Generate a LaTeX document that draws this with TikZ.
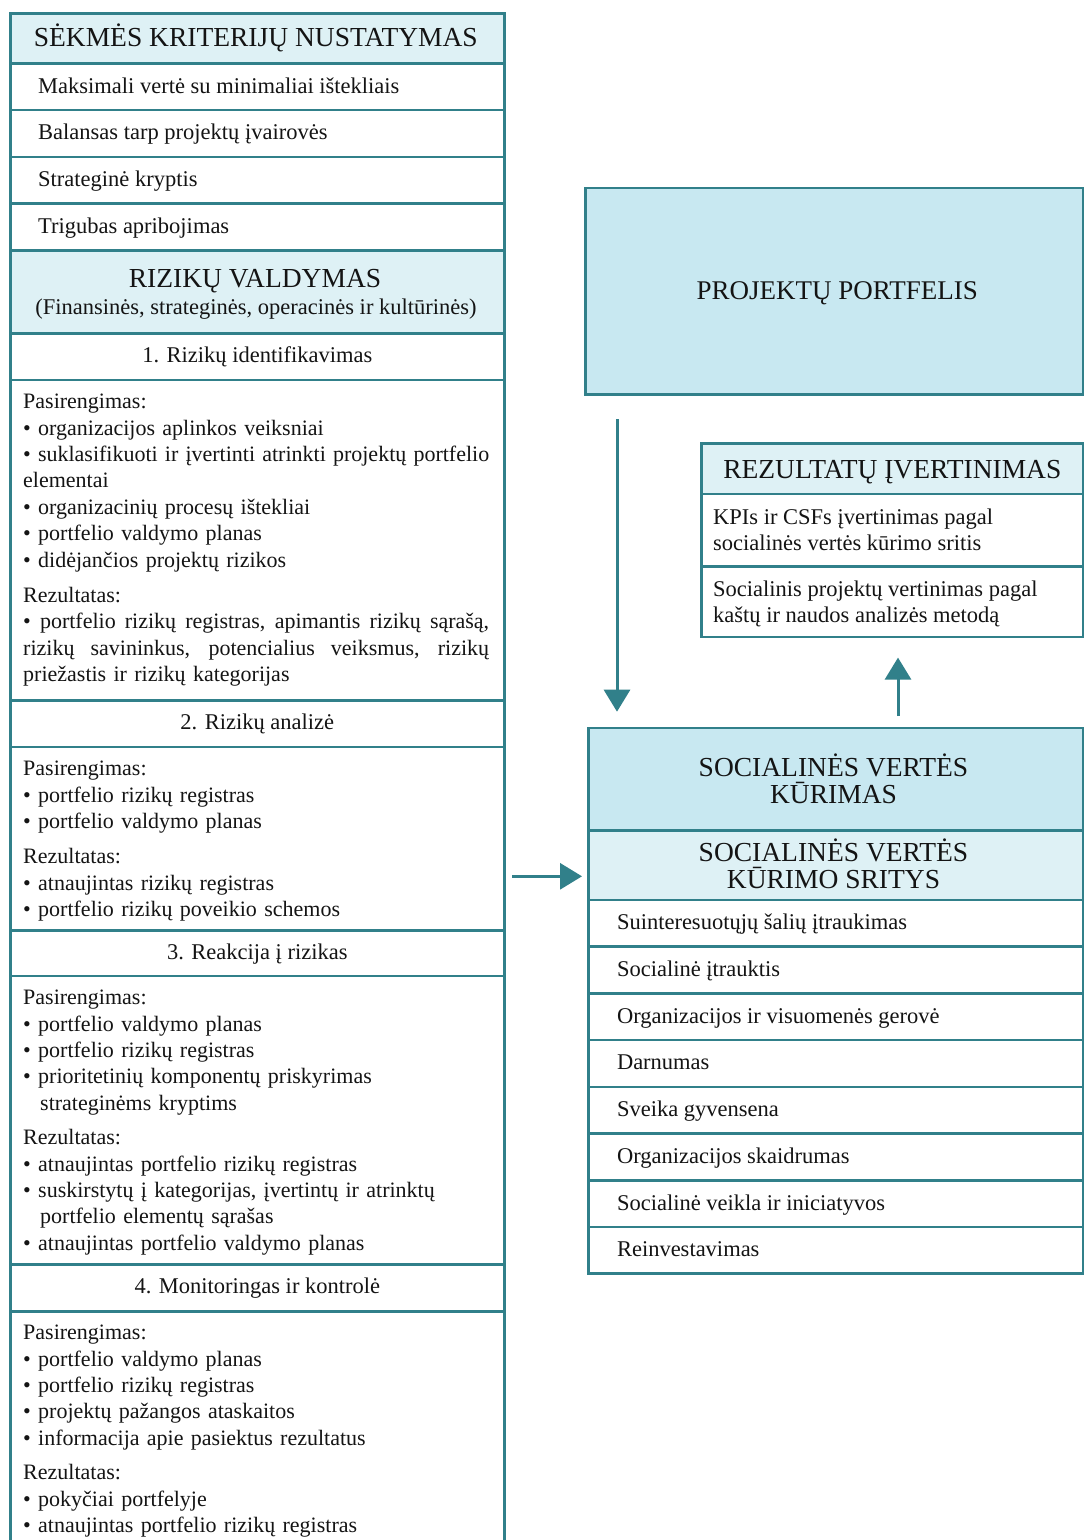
\documentclass[tikz,border=0pt]{standalone}
\usepackage{fontspec}
\setmainfont{Liberation Serif}
\usetikzlibrary{arrows.meta}
\definecolor{edge}{RGB}{49,128,138}
\definecolor{headfill}{RGB}{200,232,241}
\definecolor{subfill}{RGB}{222,241,245}
\definecolor{ink}{RGB}{20,20,20}
% a line spread to the full width of the body text (stretchable word spaces)
\newcommand\fullline[1]{\makebox[466pt][s]{\spaceskip=.3333em plus .5em minus .1em\relax #1}}

\begin{document}
\begin{tikzpicture}[x=1pt,y=-1pt,
  cell/.style={draw=edge, line width=2.6pt, inner sep=0pt, anchor=north west, fill=white},
  hcell/.style={cell, fill=subfill},
  dcell/.style={cell, fill=headfill},
  body/.style={font=\fontsize{22}{26.4}\selectfont, inner sep=0pt, text=ink},
  rowfont/.style={font=\fontsize{22.5}{26.5}\selectfont, inner sep=0pt, text=ink},
  rowtext/.style={rowfont, anchor=base west},
  steptext/.style={rowfont, anchor=base},
  bodytext/.style={body, anchor=north west, text width=466pt, align=left},
  capsH/.style={font=\fontsize{27.5}{26.6}\selectfont, inner sep=0pt, align=center, anchor=base, text=ink},
  link/.style={draw=edge, line width=3pt, -{Triangle[width=26pt,length=22pt]}},
]
\useasboundingbox (0,0) rectangle (1084,1540);
\fill[white] (0,0) rectangle (1084,1540);
\clip (0,0) rectangle (1084,1540);

% ---------------- left column: success criteria and risk management
\node[hcell, minimum width=494pt, minimum height=50pt]   (sek)  at (9,12) {};
\node[cell,  minimum width=494pt, minimum height=46.5pt] (sek1) at (9,62) {};
\node[cell,  minimum width=494pt, minimum height=47pt]   (sek2) at (9,108.5) {};
\node[cell,  minimum width=494pt, minimum height=46.5pt] (sek3) at (9,155.5) {};
\node[cell,  minimum width=494pt, minimum height=47pt]   (sek4) at (9,202) {};
\node[hcell, minimum width=494pt, minimum height=83pt]   (riz)  at (9,249) {};
\node[cell,  minimum width=494pt, minimum height=46.5pt] (st1)  at (9,332) {};
\node[cell,  minimum width=494pt, minimum height=320.5pt](b1)   at (9,378.5) {};
\node[cell,  minimum width=494pt, minimum height=46.5pt] (st2)  at (9,699) {};
\node[cell,  minimum width=494pt, minimum height=183.5pt](b2)   at (9,745.5) {};
\node[cell,  minimum width=494pt, minimum height=45.5pt] (st3)  at (9,929) {};
\node[cell,  minimum width=494pt, minimum height=288.5pt](b3)   at (9,974.5) {};
\node[cell,  minimum width=494pt, minimum height=47pt]   (st4)  at (9,1263) {};
\node[cell,  minimum width=494pt, minimum height=260pt]  (b4)   at (9,1310) {};

\node[capsH] (sekt) at ([xshift=-1.5pt,yshift=-8pt]sek.center) {SĖKMĖS KRITERIJŲ NUSTATYMAS};
\node[rowtext] (sek1t) at ([xshift=29pt,yshift=-6.5pt]sek1.west) {Maksimali vertė su minimaliai ištekliais};
\node[rowtext] (sek2t) at ([xshift=29pt,yshift=-6.5pt]sek2.west) {Balansas tarp projektų įvairovės};
\node[rowtext] (sek3t) at ([xshift=29pt,yshift=-6.5pt]sek3.west) {Strateginė kryptis};
\node[rowtext] (sek4t) at ([xshift=29pt,yshift=-6.5pt]sek4.west) {Trigubas apribojimas};

\node[capsH] (rizt) at (255,287) {RIZIKŲ VALDYMAS};
\node[steptext] (rizs) at (256,314) {(Finansinės, strateginės, operacinės ir kultūrinės)};

\node[steptext] (st1t) at ([yshift=-6pt]st1.center) {1. Rizikų identifikavimas};
\node[steptext] (st2t) at ([yshift=-6pt]st2.center) {2. Rizikų analizė};
\node[steptext] (st3t) at ([yshift=-6pt]st3.center) {3. Reakcija į rizikas};
\node[steptext] (st4t) at ([yshift=-6pt]st4.center) {4. Monitoringas ir kontrolė};

\node[bodytext] (b1t) at ([xshift=14pt,yshift=-15.5pt]b1.north west) {%
Pasirengimas:\\
• organizacijos aplinkos veiksniai\\
\fullline{• suklasifikuoti ir įvertinti atrinkti projektų portfelio}\\
elementai\\
• organizacinių procesų ištekliai\\
• portfelio valdymo planas\\
• didėjančios projektų rizikos\\[9pt]
Rezultatas:\\
\fullline{• portfelio rizikų registras, apimantis rizikų sąrašą,}\\
\fullline{rizikų savininkus, potencialius veiksmus, rizikų}\\
priežastis ir rizikų kategorijas};

\node[bodytext] (b2t) at ([xshift=14pt,yshift=-15.5pt]b2.north west) {%
Pasirengimas:\\
• portfelio rizikų registras\\
• portfelio valdymo planas\\[9pt]
Rezultatas:\\
• atnaujintas rizikų registras\\
• portfelio rizikų poveikio schemos};

\node[bodytext] (b3t) at ([xshift=14pt,yshift=-15.5pt]b3.north west) {%
Pasirengimas:\\
• portfelio valdymo planas\\
• portfelio rizikų registras\\
• prioritetinių komponentų priskyrimas\\
\hspace*{17pt}strateginėms kryptims\\[8pt]
Rezultatas:\\
• atnaujintas portfelio rizikų registras\\
• suskirstytų į kategorijas, įvertintų ir atrinktų\\
\hspace*{17pt}portfelio elementų sąrašas\\
• atnaujintas portfelio valdymo planas};

\node[bodytext] (b4t) at ([xshift=14pt,yshift=-15pt]b4.north west) {%
Pasirengimas:\\
• portfelio valdymo planas\\
• portfelio rizikų registras\\
• projektų pažangos ataskaitos\\
• informacija apie pasiektus rezultatus\\[8pt]
Rezultatas:\\
• pokyčiai portfelyje\\
• atnaujintas portfelio rizikų registras};

% ---------------- right column: portfolio, evaluation, social value
\node[dcell, minimum width=498pt, minimum height=206.6pt] (port) at (584,186.7) {};
\node[capsH, font=\fontsize{27}{26.6}\selectfont] (portt) at ([xshift=3pt,yshift=-8.5pt]port.center) {PROJEKTŲ PORTFELIS};

\node[hcell, minimum width=382pt, minimum height=50.4pt] (rez)  at (700,442.3) {};
\node[cell,  minimum width=382pt, minimum height=72.3pt] (rez1) at (700,492.7) {};
\node[cell,  minimum width=382pt, minimum height=70.7pt] (rez2) at (700,565) {};
\node[capsH] (rezt) at ([yshift=-10pt]rez.center) {REZULTATŲ ĮVERTINIMAS};
\node[rowfont, anchor=north west, align=left] (rez1t) at ([xshift=13pt,yshift=-15.6pt]rez1.north west)
  {KPIs ir CSFs įvertinimas pagal\\socialinės vertės kūrimo sritis};
\node[rowfont, anchor=north west, align=left] (rez2t) at ([xshift=13pt,yshift=-15.2pt]rez2.north west)
  {Socialinis projektų vertinimas pagal\\kaštų ir naudos analizės metodą};

\node[dcell, minimum width=495pt, minimum height=102.6pt] (soc)  at (587.3,726.7) {};
\node[hcell, minimum width=495pt, minimum height=69.4pt]  (socs) at (587.3,829.3) {};
% the base anchor of these two-line labels sits on their last line
\node[capsH] (soct)  at (833.5,803.3) {SOCIALINĖS VERTĖS\\KŪRIMAS};
\node[capsH] (socst) at (833.5,888.3) {SOCIALINĖS VERTĖS\\KŪRIMO SRITYS};

\foreach \i/\txt in {1/Suinteresuotųjų šalių įtraukimas,
                     2/Socialinė įtrauktis,
                     3/Organizacijos ir visuomenės gerovė,
                     4/Darnumas,
                     5/Sveika gyvensena,
                     6/Organizacijos skaidrumas,
                     7/Socialinė veikla ir iniciatyvos,
                     8/Reinvestavimas}{
  \node[cell, minimum width=495pt, minimum height=46.7pt] (area\i) at (587.3,{898.7+46.7*(\i-1)}) {};
  \node[rowtext] (area\i t) at ([xshift=29.5pt,yshift=-6.5pt]area\i.west) {\txt};
}

% ---------------- connectors
\coordinate (pA) at ([xshift=33pt,yshift=-23.5pt]port.south west);
\coordinate (pB) at ([xshift=29.7pt,yshift=15pt]soc.north west);
\draw[link] (pA) -- (pB);

\coordinate (uA) at ([xshift=310.7pt,yshift=10.7pt]soc.north west);
\coordinate (uB) at ([xshift=198pt,yshift=-19.3pt]rez2.south west);
\draw[link] (uA) -- (uB);

\coordinate (rA) at ([xshift=-75.3pt,yshift=-11pt]socs.west);
\coordinate (rB) at ([xshift=-5.3pt,yshift=-11pt]socs.west);
\draw[link] (rA) -- (rB);
\end{tikzpicture}
\end{document}
